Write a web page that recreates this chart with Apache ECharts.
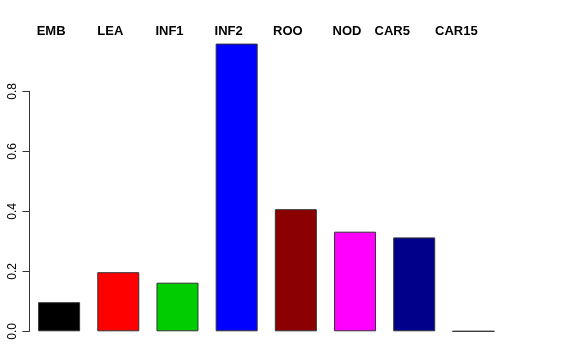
<!DOCTYPE html>
<html>
<head>
<meta charset="utf-8">
<script src="https://cdn.jsdelivr.net/npm/echarts@6/dist/echarts.min.js"></script>
<style>
html,body{margin:0;padding:0;background:#fff;}
#c{width:576px;height:360px;}
</style>
</head>
<body>
<div id="c"></div>
<script>
const categories = ['EMB', 'LEA', 'INF1', 'INF2', 'ROO', 'NOD', 'CAR5', 'CAR15'];
const values = [0.097, 0.197, 0.162, 0.959, 0.407, 0.332, 0.313, 0];
const barColors = ['#000000', '#FF0000', '#00CD00', '#0000FF', '#8B0000', '#FF00FF', '#00008B', '#FFFFFF'];
const yTicks = [0, 0.2, 0.4, 0.6, 0.8];

const chart = echarts.init(document.getElementById('c'), null, {renderer: 'canvas'});
const labelStyle = (i) => (i === 6 ? 'c' : (i === 7 ? 'b' : 'a'));
const lblFont = {fontFamily: 'Liberation Sans, Arial, sans-serif', fontWeight: 'bold', fontSize: 13, color: '#000'};
chart.setOption({
  animation: false,
  backgroundColor: '#ffffff',
  grid: {left: 29.5, top: 91.3, width: 473.5, height: 240, containLabel: false},
  xAxis: {
    type: 'category',
    position: 'top',
    data: categories,
    axisLine: {show: false},
    axisTick: {show: false},
    axisLabel: {
      interval: 0,
      margin: 53,
      formatter: (v, i) => '{' + labelStyle(i) + '|' + v + '}',
      rich: {
        a: Object.assign({padding: [0, 16, 0, 0]}, lblFont),
        b: Object.assign({padding: [0, 34, 0, 0]}, lblFont),
        c: Object.assign({padding: [0, 44, 0, 0]}, lblFont)
      }
    },
    splitLine: {show: false}
  },
  yAxis: {
    type: 'value',
    min: yTicks[0],
    max: yTicks[yTicks.length - 1],
    interval: 0.2,
    axisLine: {show: true, lineStyle: {color: '#333', width: 1}},
    axisTick: {show: true, length: 7, lineStyle: {color: '#333', width: 1}},
    axisLabel: {
      rotate: 90,
      margin: 11,
      fontFamily: 'Liberation Sans, Arial, sans-serif',
      fontSize: 12,
      color: '#000',
      formatter: (v) => v.toFixed(1)
    },
    splitLine: {show: false}
  },
  series: [{
    type: 'bar',
    clip: false,
    barWidth: 42,
    data: values.map((v, i) => ({value: v, itemStyle: {color: barColors[i]}})),
    itemStyle: {borderColor: '#333', borderWidth: 1}
  }]
});
</script>
</body>
</html>
